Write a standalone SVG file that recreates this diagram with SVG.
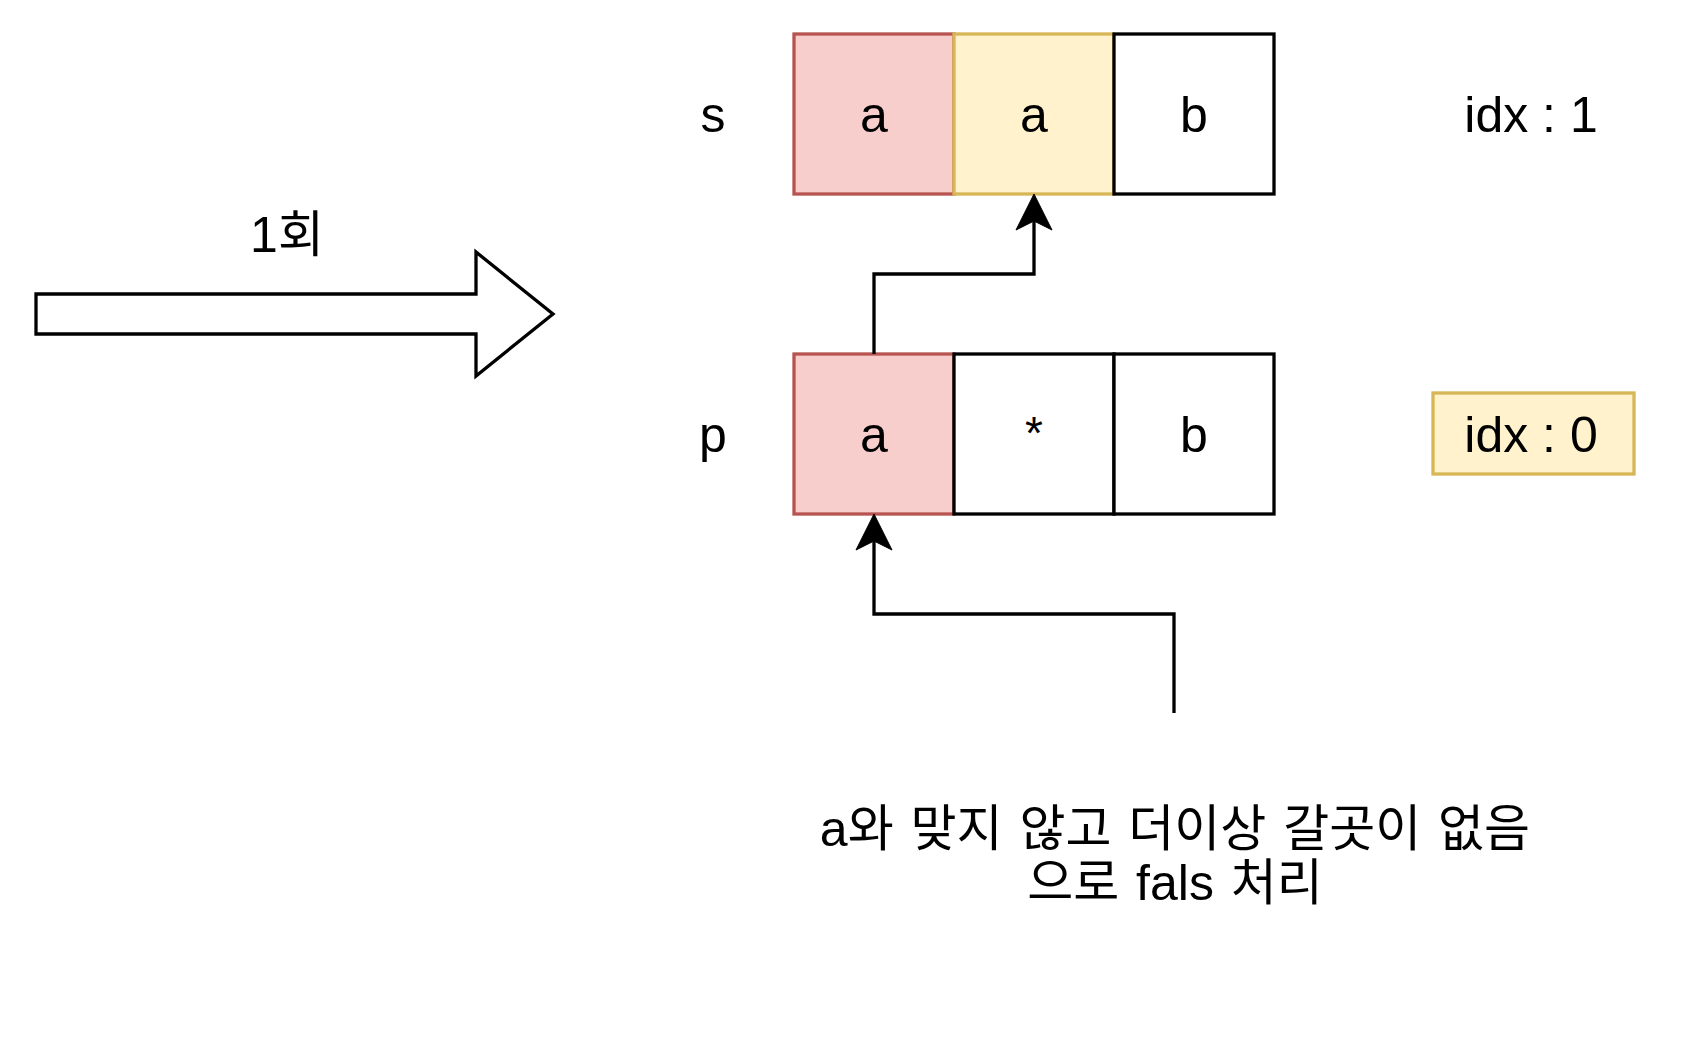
<svg xmlns="http://www.w3.org/2000/svg" width="1684" height="1044" viewBox="0 0 1684 1044">
<style>
text{font-family:"Liberation Sans","Noto Sans CJK KR",sans-serif;fill:#000;text-anchor:middle}
.t{font-size:50px}
.b{font-size:50px;word-spacing:3px}
.cell{stroke-width:3.3}
.red{fill:#f8cecc;stroke:#b85450}
.yel{fill:#fff2cc;stroke:#d6b656}
.wht{fill:#fff;stroke:#000}
.edge{fill:none;stroke:#000;stroke-width:3.3}
</style>
<defs>
<marker id="ah" markerUnits="userSpaceOnUse" viewBox="-10 -20 40 40" markerWidth="40" markerHeight="40" refX="0" refY="0" orient="auto">
<path d="M27,0 L-9,-18 L0,0 L-9,18 Z" fill="#000" stroke="#000" stroke-width="1"/>
</marker>
</defs>
<rect width="1684" height="1044" fill="#fff"/>
<g id="bigArrow">
<polygon points="36,294 476,294 476,252 553,314 476,376 476,334 36,334" fill="#fff" stroke="#000" stroke-width="3.3" stroke-linejoin="miter"/>
<text class="t" x="287" y="252">1회</text>
</g>
<g id="labelS"><text class="t" x="713" y="132">s</text></g>
<g id="labelP"><text class="t" x="713" y="452">p</text></g>
<g id="s0"><rect class="cell red" x="794" y="34" width="160" height="160"/><text class="t" x="874" y="132">a</text></g>
<g id="s1"><rect class="cell yel" x="954" y="34" width="160" height="160"/><text class="t" x="1034" y="132">a</text></g>
<g id="s2"><rect class="cell wht" x="1114" y="34" width="160" height="160"/><text class="t" x="1194" y="132">b</text></g>
<g id="p0"><rect class="cell red" x="794" y="354" width="160" height="160"/><text class="t" x="874" y="452">a</text></g>
<g id="p1"><rect class="cell wht" x="954" y="354" width="160" height="160"/><text class="t" x="1034" y="449" style="font-size:46px">*</text></g>
<g id="p2"><rect class="cell wht" x="1114" y="354" width="160" height="160"/><text class="t" x="1194" y="452">b</text></g>
<g id="idx1"><text class="t" x="1531" y="132">idx : 1</text></g>
<g id="idx0"><rect x="1433" y="393" width="201" height="81" fill="#fff2cc" stroke="#d6b656" stroke-width="3.3"/><text class="t" x="1531" y="452">idx : 0</text></g>
<g id="note"><text class="b" x="1175" y="846">a와 맞지 않고 더이상 갈곳이 없음</text><text class="b" x="1175" y="900">으로 fals 처리</text></g>
<g id="connectors">
<path class="edge" d="M874,354 L874,274 L1034,274 L1034,221" marker-end="url(#ah)"/>
<path class="edge" d="M1174,713 L1174,614 L874,614 L874,541" marker-end="url(#ah)"/>
</g>
</svg>
